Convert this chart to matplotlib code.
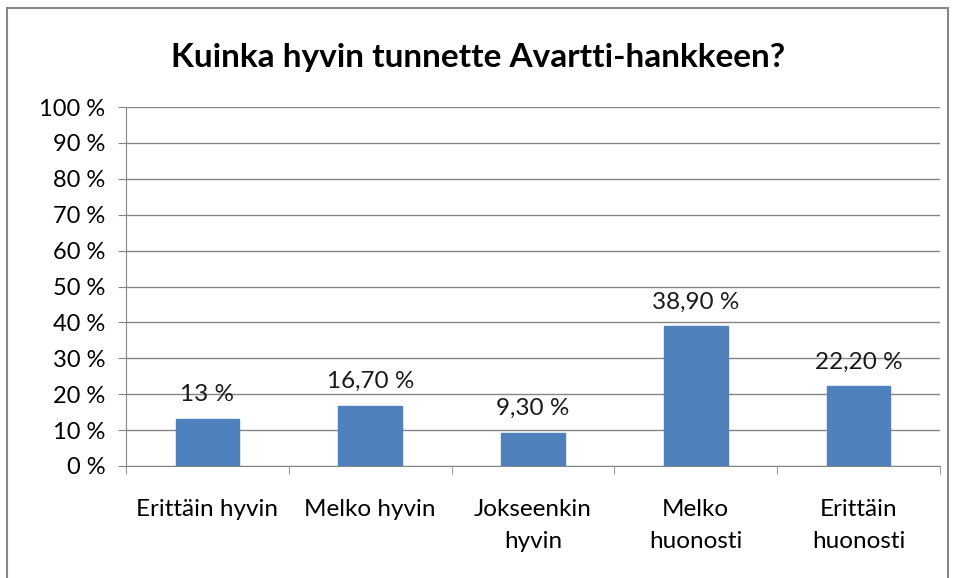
import matplotlib.pyplot as plt
from matplotlib.patches import Rectangle

# Survey answers (share of respondents, %)
categories = ['Erittäin hyvin', 'Melko hyvin', 'Jokseenkin\nhyvin', 'Melko\nhuonosti', 'Erittäin\nhuonosti']
shares = [13, 16.7, 9.3, 38.9, 22.2]
share_labels = ['13 %', '16,70 %', '9,30 %', '38,90 %', '22,20 %']
y_ticks = [0, 10, 20, 30, 40, 50, 60, 70, 80, 90, 100]

plt.rcParams['font.family'] = ['Lato', 'DejaVu Sans']

fig = plt.figure(figsize=(9.55, 5.78), dpi=100)
ax = fig.add_axes([126 / 955, 1 - 466 / 578, (940 - 126) / 955, (466 - 107) / 578])

# outer chart border (bottom edge is cut off in the original)
fig.patches.append(Rectangle((7 / 955, -0.05), (948 - 7) / 955, 1.05 - 8 / 578,
                             transform=fig.transFigure, fill=False,
                             edgecolor='#868686', linewidth=1.5))

x = range(len(categories))
ax.bar(x, shares, width=0.39, color='#4f81bd', edgecolor='#4f81bd', zorder=3)

for xi, v, lab in zip(x, shares, share_labels):
    ax.annotate(lab, (xi, v), xytext=(0, 10), textcoords='offset points',
                ha='center', va='bottom', fontsize=17.5, color='#1a1a1a')

ax.set_xlim(-0.5, len(categories) - 0.5)
ax.set_ylim(0, 100)
ax.set_yticks(y_ticks)
ax.set_yticklabels([f'{t} %' for t in y_ticks], fontsize=17)
ax.grid(axis='y', color='#868686', linewidth=1, zorder=0)

ax.set_xticks(list(x))
ax.set_xticklabels(categories, fontsize=17.5, linespacing=1.6)
ax.tick_params(axis='x', length=0, pad=24)
# tick marks between categories
ax.set_xticks([i - 0.5 for i in range(len(categories) + 1)], minor=True)
ax.tick_params(axis='x', which='minor', length=6, color='#868686', direction='out')
ax.tick_params(axis='y', length=6, color='#868686', pad=9)

for s in ['top', 'right']:
    ax.spines[s].set_visible(False)
ax.spines['left'].set_color('#868686')
ax.spines['bottom'].set_color('#868686')

fig.text(478 / 955, 1 - 57 / 578, 'Kuinka hyvin tunnette Avartti-hankkeen?',
         ha='center', va='center', fontsize=24, fontweight='bold')

fig.savefig('out.png', dpi=100)
